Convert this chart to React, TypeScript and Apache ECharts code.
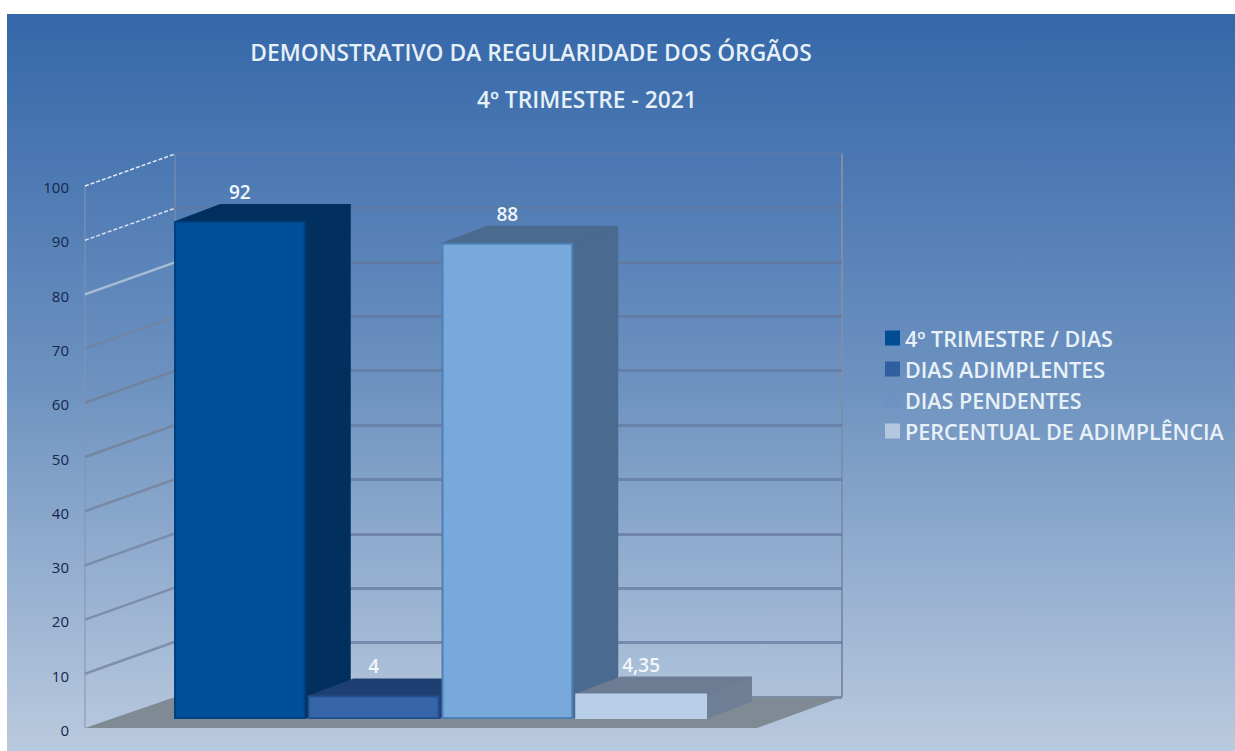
import React, { useEffect, useRef } from "react";
import * as echarts from "echarts";

const categories = ["4º TRIMESTRE / DIAS", "DIAS ADIMPLENTES", "DIAS PENDENTES", "PERCENTUAL DE ADIMPLÊNCIA"];
const values = [92, 4, 88, 4.35];
const valueLabels = ["92", "4", "88", "4,35"];
const frontColors = ["#004f9b", "#3665a9", "#77a9dc", "#b9cfe9"];
const sideColors = ["#01305f", "#1d3f72", "#4a6a8f", "#6f8096"];
const topColors = ["#01305f", "#1d3f72", "#4a6a8f", "#6c7c92"];
const edgeColors = ["#003f80", "#24508f", "#4f7fb5", "#b9cfe9"];
const legendColors = ["#024c94", "#2f5f9f", "#6d93c3", "#b4c8e0"];
const wallTicks = [10, 20, 30, 40, 50, 60, 70, 80, 90, 100];
const wallColors = ["#7f90ac", "#7d8eaa", "#7a8ca8", "#7889a6", "#74879f", "#70849f", "#6f85a6", "#a9bcd6", "#d4e0ee", "#e4edf6"];
const backLineColors = ["#64789c", "#64789c", "#64789c", "#64789c", "#64789c", "#64789c", "#64789c", "#64789c", "#64789c", "#5d78a3", "#5a78a8"];

const FONT = "Open Sans";
const DEPTH_X = 45;
const DEPTH_Y = 17;
const WALL_DX = 90;
const WALL_DY = 32;

function barRenderer(i: number) {
  return (_p: any, api: any) => {
    const top = api.coord([api.value(0), api.value(1)]);
    const base = api.coord([api.value(0), 0]);
    const w = api.size([1, 0])[0] - 4;
    const l = top[0] - w / 2;
    const r = top[0] + w / 2;
    const children: any[] = [
      {
        type: "polygon",
        shape: { points: [[r, top[1]], [r + DEPTH_X, top[1] - DEPTH_Y], [r + DEPTH_X, base[1] - DEPTH_Y], [r, base[1]]] },
        style: { fill: sideColors[i], stroke: sideColors[i], lineWidth: 2, lineJoin: "round" },
      },
      {
        type: "polygon",
        shape: { points: [[l, top[1]], [l + DEPTH_X, top[1] - DEPTH_Y], [r + DEPTH_X, top[1] - DEPTH_Y], [r, top[1]]] },
        style: { fill: topColors[i], stroke: topColors[i], lineWidth: 2, lineJoin: "round" },
      },
      {
        type: "rect",
        shape: { x: l, y: top[1], width: w, height: base[1] - top[1] },
        style: { fill: frontColors[i], stroke: edgeColors[i], lineWidth: 2 },
      },
      {
        type: "text",
        style: {
          x: top[0],
          y: top[1] - 30,
          text: valueLabels[i],
          fill: "#f2f7fb",
          font: `600 19px ${FONT}`,
          align: "center",
          verticalAlign: "middle",
        },
      },
    ];
    return { type: "group", children };
  };
}

function wallLineRenderer(_p: any, api: any) {
  const v = api.value(1);
  const a = api.coord([0, v]);
  const i = api.value(2);
  return {
    type: "line",
    shape: { x1: a[0], y1: a[1], x2: a[0] + WALL_DX, y2: a[1] - WALL_DY },
    style: { stroke: wallColors[i], lineWidth: v >= 90 ? 1.5 : 2.5, lineDash: v >= 90 ? [4, 2] : undefined },
  };
}

export default function App() {
  const ref = useRef<HTMLDivElement>(null);
  useEffect(() => {
    const chart = echarts.init(ref.current!, undefined, { renderer: "svg" });
    const titleStyle = { color: "#e6f0f7", fontSize: 22.8, fontWeight: 600, fontFamily: FONT };
    chart.setOption({
      animation: false,
      backgroundColor: "#ffffff",
      textStyle: { fontFamily: FONT },
      title: [
        { text: "DEMONSTRATIVO DA REGULARIDADE DOS ÓRGÃOS", left: 526, top: 47, textAlign: "center", textVerticalAlign: "middle", textStyle: titleStyle },
        { text: "4º TRIMESTRE - 2021", left: 582, top: 94, textAlign: "center", textVerticalAlign: "middle", textStyle: titleStyle },
      ],
      legend: {
        orient: "vertical",
        left: 880,
        top: 322,
        itemWidth: 15,
        itemHeight: 15,
        itemGap: 9,
        icon: "rect",
        selectedMode: false,
        textStyle: { color: "#e8f1f7", fontSize: 21.5, fontFamily: FONT, fontWeight: 600 },
        data: categories.map((name, i) => ({ name, itemStyle: { color: legendColors[i] } })),
      },
      graphic: [
        {
          type: "rect",
          z: -10,
          shape: { x: 7, y: 14, width: 1228, height: 737 },
          style: {
            fill: new echarts.graphic.LinearGradient(0, 0, 0, 1, [
              { offset: 0, color: "#3567a9" },
              { offset: 0.5, color: "#6d92c0" },
              { offset: 1, color: "#bacade" },
            ]),
          },
        },
        {
          type: "line",
          z: -5,
          shape: { x1: 85, y1: 186, x2: 85, y2: 728 },
          style: { stroke: "#8294b0", lineWidth: 1 },
        },
        {
          type: "line",
          z: -5,
          shape: { x1: 175, y1: 153, x2: 175, y2: 697 },
          style: { stroke: "#7f90ac", lineWidth: 1 },
        },
        {
          type: "line",
          z: -5,
          shape: { x1: 842, y1: 153, x2: 842, y2: 697 },
          style: { stroke: "#7d8eaa", lineWidth: 2 },
        },
        {
          type: "polygon",
          z: 1,
          shape: { points: [[85, 728], [175, 697], [842, 697], [757, 728]] },
          style: { fill: "#808a94" },
        },
      ],
      grid: [
        { left: 173, top: 179, width: 535, height: 539 },
        { left: 85, top: 186, width: 90, height: 542 },
        { left: 175, top: 153, width: 667, height: 544 },
        { left: 85, top: 187, width: 90, height: 543 },
      ],
      xAxis: [
        { type: "category", gridIndex: 0, data: categories, show: false },
        { type: "value", gridIndex: 1, min: 0, max: 1, show: false },
        { type: "value", gridIndex: 2, min: 0, max: 1, show: false },
        { type: "value", gridIndex: 3, min: 0, max: 1, show: false },
      ],
      yAxis: [
        { type: "value", gridIndex: 0, min: 0, max: 100, show: false },
        { type: "value", gridIndex: 1, min: 0, max: 100, show: false },
        {
          type: "value",
          gridIndex: 2,
          min: 0,
          max: 100,
          interval: 10,
          axisLine: { show: false },
          axisTick: { show: false },
          axisLabel: { show: false },
          splitLine: { show: true, lineStyle: { color: backLineColors, width: 3, opacity: 0.7 } },
        },
        {
          type: "value",
          gridIndex: 3,
          min: 0,
          max: 100,
          interval: 10,
          axisLine: { show: false },
          axisTick: { show: false },
          splitLine: { show: false },
          axisLabel: { color: "#16264c", fontSize: 15, margin: 16, fontFamily: FONT },
        },
      ],
      series: [
        {
          type: "custom",
          name: "wall",
          xAxisIndex: 1,
          yAxisIndex: 1,
          silent: true,
          z: 1,
          renderItem: wallLineRenderer,
          encode: { x: 0, y: 1 },
          data: wallTicks.map((t, i) => [0, t, i]),
        },
        ...categories.map((name, i) => ({
          type: "custom",
          name,
          xAxisIndex: 0,
          yAxisIndex: 0,
          z: 3 + i,
          itemStyle: { color: legendColors[i] },
          renderItem: barRenderer(i),
          encode: { x: 0, y: 1 },
          data: [[i, values[i]]],
        })),
      ],
    });
    return () => chart.dispose();
  }, []);
  return <div ref={ref} style={{ position: "absolute", left: 0, top: 0, width: 1235, height: 751 }} />;
}
